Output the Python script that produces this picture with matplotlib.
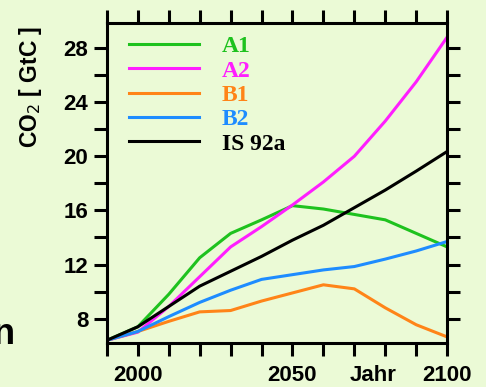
import matplotlib
matplotlib.use("Agg")
import matplotlib.pyplot as plt
from matplotlib.transforms import blended_transform_factory

# years of the scenario runs
years = [1990, 2000, 2010, 2020, 2030, 2040, 2050, 2060, 2070, 2080, 2090, 2100]

# CO2 emissions [GtC]
a1 = [6.4, 7.4, 9.8, 12.5, 14.3, 15.3, 16.35, 16.1, 15.7, 15.3, 14.3, 13.3]
a2 = [6.4, 7.0, 8.9, 11.1, 13.3, 14.8, 16.4, 18.1, 20.0, 22.6, 25.5, 28.8]
b1 = [6.4, 7.05, 7.8, 8.5, 8.6, 9.3, 9.9, 10.5, 10.2, 8.8, 7.55, 6.65]
b2 = [6.4, 7.05, 8.15, 9.2, 10.1, 10.9, 11.25, 11.6, 11.85, 12.4, 13.0, 13.7]
is92a = [6.4, 7.4, 8.9, 10.4, 11.5, 12.6, 13.8, 14.9, 16.2, 17.5, 18.9, 20.35]

names = ["A1", "A2", "B1", "B2", "IS 92a"]
series = [a1, a2, b1, b2, is92a]
colors = ["#1ec21e", "#ff1eff", "#ff8418", "#1e8cff", "#000000"]

x_ticks = list(range(1990, 2101, 10))
x_labels = {2000: "2000", 2050: "2050", 2100: "2100"}
y_ticks = list(range(8, 29, 2))
y_labels = {8: "8", 12: "12", 16: "16", 20: "20", 24: "24", 28: "28"}

bg = "#ebfad6"

fig = plt.figure(figsize=(4.86, 3.87), dpi=100, facecolor=bg)
ax = fig.add_axes([0.220, 0.1137, 0.700, 0.827], facecolor=bg)

for name, vals, c in zip(names, series, colors):
    ax.plot(years, vals, color=c, lw=2.2, label=name, solid_joinstyle="round")

ax.set_xlim(1990, 2100)
ax.set_ylim(6.2, 29.85)

ax.set_xticks(x_ticks)
ax.set_xticklabels([x_labels.get(t, "") for t in x_ticks])
ax.set_yticks(y_ticks)
ax.set_yticklabels([y_labels.get(t, "") for t in y_ticks])

ax.tick_params(direction="out", length=9.5, width=2.2, top=True, right=True,
               labeltop=False, labelright=False, labelsize=16)
ax.tick_params(axis="x", pad=6)
ax.tick_params(axis="y", pad=4)
for lab in ax.get_xticklabels() + ax.get_yticklabels():
    lab.set_fontfamily("Liberation Sans")
    lab.set_fontweight("bold")
for sp in ax.spines.values():
    sp.set_linewidth(2.2)

ax.set_ylabel("CO$_2$ [ GtC ]", fontsize=16.5, fontweight="bold",
              fontfamily="Liberation Sans")
ax.yaxis.set_label_coords(-0.186, 0.80)

# "Jahr" sits in the row of the year labels
trans = blended_transform_factory(ax.transData, ax.transAxes)
ax.text(2076, -(9.5 + 6) / 72 * 100 / 320, "Jahr", transform=trans,
        ha="center", va="top", fontsize=16, fontweight="bold",
        fontfamily="Liberation Sans")

leg = ax.legend(loc="upper left", bbox_to_anchor=(0.05, 0.975), frameon=False,
                borderaxespad=0, borderpad=0.2,
                handlelength=3.0, handletextpad=0.95, labelspacing=0.12,
                labelcolor="linecolor",
                prop={"family": "Liberation Serif", "weight": "bold", "size": 17})

# cut-off letter at the left edge
fig.text(-0.015, 0.135, "n", fontsize=26, fontweight="bold",
         fontfamily="Liberation Sans", ha="left", va="center")

fig.savefig("out.png", dpi=100, facecolor=bg)
